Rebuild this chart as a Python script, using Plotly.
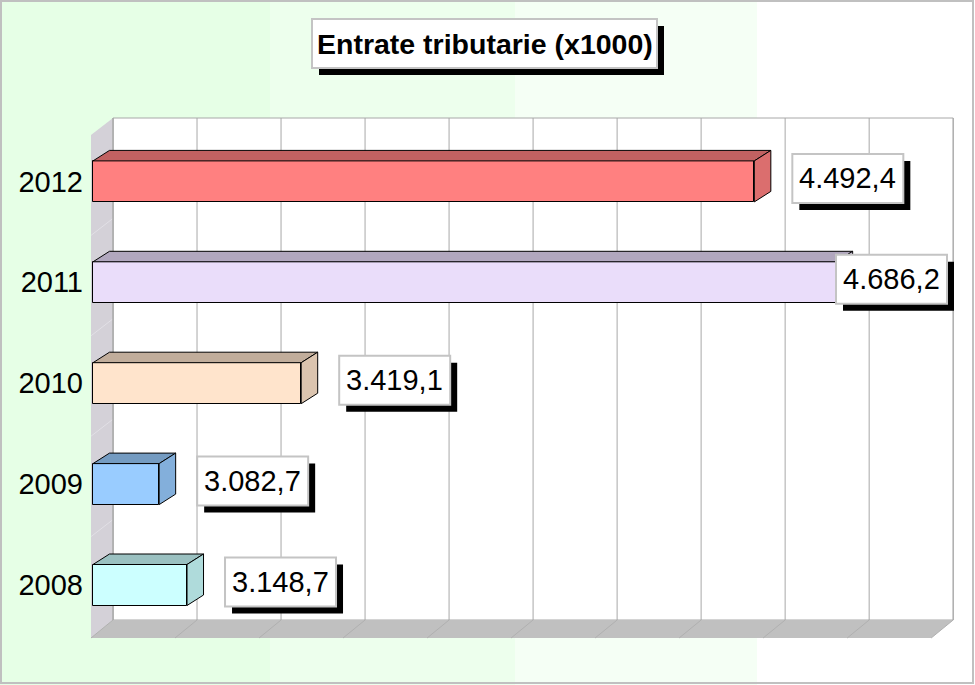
import plotly.graph_objects as go

# ---------------- data ----------------
years = ["2008", "2009", "2010", "2011", "2012"]
values = [3148.7, 3082.7, 3419.1, 4686.2, 4492.4]
front_colors = ["#CCFFFF", "#99CCFF", "#FFE4CC", "#EADDFA", "#FF8080"]
title_text = "Entrate tributarie (x1000)"

AXIS_MIN = 2926.0
AXIS_STEP = 199.0
N_STEPS = 10

# ---------------- geometry / style ----------------
W, H = 975, 685
PPU = 0.4222        # pixels per value unit
BASE_PX = 93.0      # pixel x of AXIS_MIN on the bar front plane
CAT_PX = 100.9      # pixels per category
CAT0_PY = 585.0     # pixel y of first category centre
BAR_H_PX = 41.0
DEPTH_DX, DEPTH_DY = 16.5, 10.5     # bar depth (px)
WALL_DX = 20.0                      # back wall offset from bar front plane
FLOOR_FRONT_DX = -2.0
WALL_TOP_PY, FLOOR_BACK_PY, FLOOR_FRONT_PY = 118.0, 620.0, 638.0
LEFT_TOP_FRONT_PY = 135.0
FONT = "Liberation Sans, Arial, sans-serif"


def x_of(px):
    return AXIS_MIN + (px - BASE_PX) / PPU


def y_of(py):
    return (CAT0_PY - py) / CAT_PX


def dxu(dpx):
    return dpx / PPU


def dyu(dpy):
    return dpy / CAT_PX


def shade(hexcol, f):
    hexcol = hexcol.lstrip("#")
    r, g, b = (int(hexcol[i:i + 2], 16) for i in (0, 2, 4))
    return "#%02X%02X%02X" % (int(r * f), int(g * f), int(b * f))


def fmt_it(v):
    s = f"{v:,.1f}"
    return s.replace(",", "X").replace(".", ",").replace("X", ".")


ypos = list(range(len(years)))
bar_h = dyu(BAR_H_PX)

fig = go.Figure()
fig.add_trace(go.Bar(
    orientation="h",
    y=ypos,
    x=[v - AXIS_MIN for v in values],
    base=AXIS_MIN,
    width=bar_h,
    marker=dict(color=front_colors, line=dict(color="black", width=1)),
    hoverinfo="skip",
    showlegend=False,
))

shapes = []
# background bands
bands = [(0, 270, "#E6FFE6"), (270, 515, "#EDFFED"), (515, 757, "#F5FFF5"), (757, W, "#FFFFFF")]
for a, b, c in bands:
    shapes.append(dict(type="rect", xref="paper", yref="paper", x0=a / W, x1=b / W, y0=0, y1=1,
                       fillcolor=c, line=dict(width=0), layer="below"))

x_lo = AXIS_MIN
x_hi = AXIS_MIN + N_STEPS * AXIS_STEP
wall_x0 = x_lo + dxu(WALL_DX)
wall_x1 = x_hi + dxu(WALL_DX)
front_x0 = x_lo + dxu(FLOOR_FRONT_DX)
front_x1 = x_hi + dxu(FLOOR_FRONT_DX)
y_top = y_of(WALL_TOP_PY)
y_fb = y_of(FLOOR_BACK_PY)
y_ff = y_of(FLOOR_FRONT_PY)
y_ltf = y_of(LEFT_TOP_FRONT_PY)

# back wall
shapes.append(dict(type="rect", xref="x", yref="y", x0=wall_x0, x1=wall_x1, y0=y_fb, y1=y_top,
                   fillcolor="white", line=dict(color="#A8A8A8", width=1), layer="below"))
# left wall
shapes.append(dict(type="path", xref="x", yref="y",
                   path=f"M {front_x0},{y_ff} L {front_x0},{y_ltf} L {wall_x0},{y_top} L {wall_x0},{y_fb} Z",
                   fillcolor="#D4D1D8", line=dict(width=0), layer="below"))
# floor
shapes.append(dict(type="path", xref="x", yref="y",
                   path=f"M {front_x0},{y_ff} L {wall_x0},{y_fb} L {wall_x1},{y_fb} L {front_x1},{y_ff} Z",
                   fillcolor="#C0C0C0", line=dict(width=0), layer="below"))
# left wall category separators
for i in range(1, len(years)):
    yb = y_top + (y_fb - y_top) * i / len(years)
    shapes.append(dict(type="line", xref="x", yref="y", x0=wall_x0, y0=yb,
                       x1=front_x0, y1=yb - (y_top - y_ltf),
                       line=dict(color="#E2E0E6", width=1), layer="below"))
# gridlines
for k in range(N_STEPS + 1):
    gv = AXIS_MIN + k * AXIS_STEP
    shapes.append(dict(type="line", xref="x", yref="y", x0=gv + dxu(WALL_DX), x1=gv + dxu(WALL_DX),
                       y0=y_fb, y1=y_top, line=dict(color="#A8A8A8", width=1), layer="below"))
    shapes.append(dict(type="line", xref="x", yref="y", x0=gv + dxu(WALL_DX), y0=y_fb,
                       x1=gv + dxu(FLOOR_FRONT_DX), y1=y_ff, line=dict(color="#B0B0B0", width=1),
                       layer="below"))
shapes.append(dict(type="line", xref="x", yref="y", x0=wall_x0, x1=wall_x0, y0=y_fb, y1=y_top,
                   line=dict(color="#A8A8A8", width=1), layer="below"))

# bar top and side faces
ddx, ddy = dxu(DEPTH_DX), dyu(DEPTH_DY)
for yp, v, c in zip(ypos, values, front_colors):
    yt, yb = yp + bar_h / 2, yp - bar_h / 2
    shapes.append(dict(type="path", xref="x", yref="y",
                       path=f"M {AXIS_MIN},{yt} L {v},{yt} L {v + ddx},{yt + ddy} L {AXIS_MIN + ddx},{yt + ddy} Z",
                       fillcolor=shade(c, 0.76), line=dict(color="black", width=1), layer="above"))
    shapes.append(dict(type="path", xref="x", yref="y",
                       path=f"M {v},{yb} L {v},{yt} L {v + ddx},{yt + ddy} L {v + ddx},{yb + ddy} Z",
                       fillcolor=shade(c, 0.86), line=dict(color="black", width=1), layer="above"))

# value label boxes
BOX_W, BOX_H, BOX_GAP, SH = 111.0, 49.0, 38.0, 7.0
BOX_MAX_RIGHT_PX = 947.0
annotations = []
for yp, v in zip(ypos, values):
    bx0 = min(v + dxu(BOX_GAP), x_of(BOX_MAX_RIGHT_PX - BOX_W))
    bx1 = bx0 + dxu(BOX_W)
    yc = yp + dyu(3.0)
    by0, by1 = yc - dyu(BOX_H / 2), yc + dyu(BOX_H / 2)
    shapes.append(dict(type="rect", xref="x", yref="y", x0=bx0 + dxu(SH), x1=bx1 + dxu(SH),
                       y0=by0 - dyu(SH), y1=by1 - dyu(SH), fillcolor="black", line=dict(width=0),
                       layer="above"))
    shapes.append(dict(type="rect", xref="x", yref="y", x0=bx0, x1=bx1, y0=by0, y1=by1,
                       fillcolor="white", line=dict(color="#C4C4C4", width=2), layer="above"))
    annotations.append(dict(xref="x", yref="y", x=(bx0 + bx1) / 2, y=yc, text=fmt_it(v),
                            showarrow=False, xanchor="center", yanchor="middle",
                            font=dict(family=FONT, size=29, color="black")))

# title box
tx0, tx1, ty0, ty1 = 312, 657, 19, 68
shapes.append(dict(type="rect", xref="paper", yref="paper", x0=(tx0 + SH) / W, x1=(tx1 + SH) / W,
                   y0=1 - (ty1 + SH) / H, y1=1 - (ty0 + SH) / H, fillcolor="black",
                   line=dict(width=0), layer="above"))
shapes.append(dict(type="rect", xref="paper", yref="paper", x0=tx0 / W, x1=tx1 / W,
                   y0=1 - ty1 / H, y1=1 - ty0 / H, fillcolor="white",
                   line=dict(color="#C4C4C4", width=2), layer="above"))
annotations.append(dict(xref="paper", yref="paper", x=(tx0 + tx1) / 2 / W, y=1 - (ty0 + ty1) / 2 / H,
                        text="<b>" + title_text + "</b>", showarrow=False,
                        xanchor="center", yanchor="middle",
                        font=dict(family=FONT, size=28.5, color="black")))
# outer border
shapes.append(dict(type="rect", xref="paper", yref="paper", x0=1 / W, x1=1 - 2 / W, y0=2 / H,
                   y1=1 - 1 / H, fillcolor="rgba(0,0,0,0)", line=dict(color="#C0C0C0", width=2),
                   layer="above"))

fig.update_layout(
    width=W, height=H,
    margin=dict(l=0, r=0, t=0, b=0),
    paper_bgcolor="white",
    plot_bgcolor="rgba(0,0,0,0)",
    showlegend=False,
    bargap=0,
    shapes=shapes,
    annotations=annotations,
    xaxis=dict(domain=[0, 1], range=[x_of(0), x_of(W)], visible=False, fixedrange=True),
    yaxis=dict(domain=[0, 1], range=[y_of(H), y_of(0)], anchor="free", position=83 / W,
               tickmode="array", tickvals=ypos, ticktext=years, ticks="",
               showgrid=False, zeroline=False, showline=False, fixedrange=True,
               tickfont=dict(family=FONT, size=29, color="black")),
)

fig.write_html("out.html")
